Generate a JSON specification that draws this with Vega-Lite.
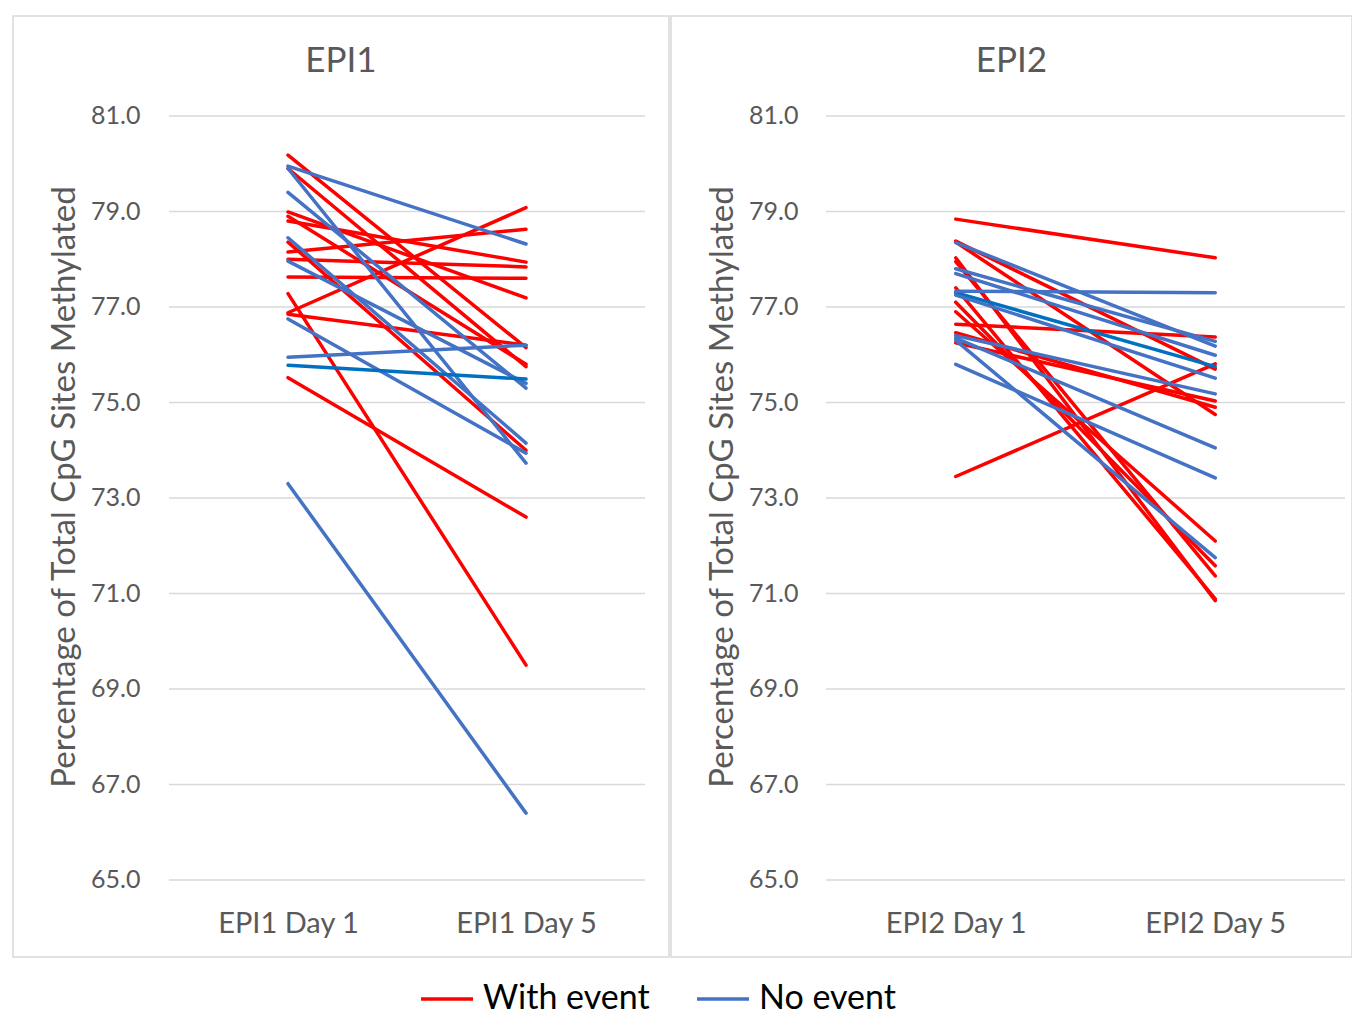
{
  "$schema": "https://vega.github.io/schema/vega-lite/v6.json",
  "padding": {"left": 12, "top": 15, "right": 0, "bottom": 0},
  "background": "white",
  "spacing": 0,
  "datasets": {
    "grid": [{"value": 65}, {"value": 67}, {"value": 69}, {"value": 71}, {"value": 73}, {"value": 75}, {"value": 77}, {"value": 79}, {"value": 81}],
    "pts": [
      {"panel": "EPI1", "id": "r1", "group": "With event", "day": 1, "value": 80.18}, {"panel": "EPI1", "id": "r1", "group": "With event", "day": 5, "value": 76.15},
      {"panel": "EPI1", "id": "r2", "group": "With event", "day": 1, "value": 79.9}, {"panel": "EPI1", "id": "r2", "group": "With event", "day": 5, "value": 75.75},
      {"panel": "EPI1", "id": "r3", "group": "With event", "day": 1, "value": 78.99}, {"panel": "EPI1", "id": "r3", "group": "With event", "day": 5, "value": 77.19},
      {"panel": "EPI1", "id": "r4", "group": "With event", "day": 1, "value": 78.8}, {"panel": "EPI1", "id": "r4", "group": "With event", "day": 5, "value": 77.94},
      {"panel": "EPI1", "id": "r5", "group": "With event", "day": 1, "value": 78.36}, {"panel": "EPI1", "id": "r5", "group": "With event", "day": 5, "value": 74.0},
      {"panel": "EPI1", "id": "r6", "group": "With event", "day": 1, "value": 78.15}, {"panel": "EPI1", "id": "r6", "group": "With event", "day": 5, "value": 78.63},
      {"panel": "EPI1", "id": "r7", "group": "With event", "day": 1, "value": 78.0}, {"panel": "EPI1", "id": "r7", "group": "With event", "day": 5, "value": 77.84},
      {"panel": "EPI1", "id": "r8", "group": "With event", "day": 1, "value": 77.63}, {"panel": "EPI1", "id": "r8", "group": "With event", "day": 5, "value": 77.6},
      {"panel": "EPI1", "id": "r9", "group": "With event", "day": 1, "value": 77.28}, {"panel": "EPI1", "id": "r9", "group": "With event", "day": 5, "value": 69.5},
      {"panel": "EPI1", "id": "r10", "group": "With event", "day": 1, "value": 76.88}, {"panel": "EPI1", "id": "r10", "group": "With event", "day": 5, "value": 79.08},
      {"panel": "EPI1", "id": "r11", "group": "With event", "day": 1, "value": 76.85}, {"panel": "EPI1", "id": "r11", "group": "With event", "day": 5, "value": 76.2},
      {"panel": "EPI1", "id": "r12", "group": "With event", "day": 1, "value": 75.52}, {"panel": "EPI1", "id": "r12", "group": "With event", "day": 5, "value": 72.6},
      {"panel": "EPI1", "id": "r13", "group": "With event", "day": 1, "value": 78.9}, {"panel": "EPI1", "id": "r13", "group": "With event", "day": 5, "value": 75.8},
      {"panel": "EPI1", "id": "b1", "group": "No event", "day": 1, "value": 79.95}, {"panel": "EPI1", "id": "b1", "group": "No event", "day": 5, "value": 78.32},
      {"panel": "EPI1", "id": "b2", "group": "No event", "day": 1, "value": 79.9}, {"panel": "EPI1", "id": "b2", "group": "No event", "day": 5, "value": 73.73},
      {"panel": "EPI1", "id": "b3", "group": "No event", "day": 1, "value": 79.4}, {"panel": "EPI1", "id": "b3", "group": "No event", "day": 5, "value": 75.3},
      {"panel": "EPI1", "id": "b4", "group": "No event", "day": 1, "value": 78.45}, {"panel": "EPI1", "id": "b4", "group": "No event", "day": 5, "value": 74.15},
      {"panel": "EPI1", "id": "b5", "group": "No event", "day": 1, "value": 77.96}, {"panel": "EPI1", "id": "b5", "group": "No event", "day": 5, "value": 75.4},
      {"panel": "EPI1", "id": "b6", "group": "No event", "day": 1, "value": 76.75}, {"panel": "EPI1", "id": "b6", "group": "No event", "day": 5, "value": 73.94},
      {"panel": "EPI1", "id": "b7", "group": "No event", "day": 1, "value": 75.95}, {"panel": "EPI1", "id": "b7", "group": "No event", "day": 5, "value": 76.2},
      {"panel": "EPI1", "id": "b8", "group": "No event (2)", "day": 1, "value": 75.78}, {"panel": "EPI1", "id": "b8", "group": "No event (2)", "day": 5, "value": 75.49},
      {"panel": "EPI1", "id": "b9", "group": "No event", "day": 1, "value": 73.3}, {"panel": "EPI1", "id": "b9", "group": "No event", "day": 5, "value": 66.4},

      {"panel": "EPI2", "id": "s1", "group": "With event", "day": 1, "value": 78.84}, {"panel": "EPI2", "id": "s1", "group": "With event", "day": 5, "value": 78.03},
      {"panel": "EPI2", "id": "s2", "group": "With event", "day": 1, "value": 78.38}, {"panel": "EPI2", "id": "s2", "group": "With event", "day": 5, "value": 75.7},
      {"panel": "EPI2", "id": "s3", "group": "With event", "day": 1, "value": 78.36}, {"panel": "EPI2", "id": "s3", "group": "With event", "day": 5, "value": 74.75},
      {"panel": "EPI2", "id": "s4", "group": "With event", "day": 1, "value": 78.03}, {"panel": "EPI2", "id": "s4", "group": "With event", "day": 5, "value": 70.85},
      {"panel": "EPI2", "id": "s5", "group": "With event", "day": 1, "value": 77.95}, {"panel": "EPI2", "id": "s5", "group": "With event", "day": 5, "value": 71.37},
      {"panel": "EPI2", "id": "s6", "group": "With event", "day": 1, "value": 77.4}, {"panel": "EPI2", "id": "s6", "group": "With event", "day": 5, "value": 70.89},
      {"panel": "EPI2", "id": "s7", "group": "With event", "day": 1, "value": 77.1}, {"panel": "EPI2", "id": "s7", "group": "With event", "day": 5, "value": 71.58},
      {"panel": "EPI2", "id": "s8", "group": "With event", "day": 1, "value": 76.9}, {"panel": "EPI2", "id": "s8", "group": "With event", "day": 5, "value": 72.1},
      {"panel": "EPI2", "id": "s9", "group": "With event", "day": 1, "value": 76.64}, {"panel": "EPI2", "id": "s9", "group": "With event", "day": 5, "value": 76.37},
      {"panel": "EPI2", "id": "s10", "group": "With event", "day": 1, "value": 76.46}, {"panel": "EPI2", "id": "s10", "group": "With event", "day": 5, "value": 74.9},
      {"panel": "EPI2", "id": "s11", "group": "With event", "day": 1, "value": 76.25}, {"panel": "EPI2", "id": "s11", "group": "With event", "day": 5, "value": 75.03},
      {"panel": "EPI2", "id": "s12", "group": "With event", "day": 1, "value": 73.45}, {"panel": "EPI2", "id": "s12", "group": "With event", "day": 5, "value": 75.81},
      {"panel": "EPI2", "id": "t1", "group": "No event", "day": 1, "value": 78.35}, {"panel": "EPI2", "id": "t1", "group": "No event", "day": 5, "value": 76.18},
      {"panel": "EPI2", "id": "t2", "group": "No event", "day": 1, "value": 77.8}, {"panel": "EPI2", "id": "t2", "group": "No event", "day": 5, "value": 76.28},
      {"panel": "EPI2", "id": "t3", "group": "No event", "day": 1, "value": 77.7}, {"panel": "EPI2", "id": "t3", "group": "No event", "day": 5, "value": 75.99},
      {"panel": "EPI2", "id": "t4", "group": "No event (2)", "day": 1, "value": 77.3}, {"panel": "EPI2", "id": "t4", "group": "No event (2)", "day": 5, "value": 75.75},
      {"panel": "EPI2", "id": "t5", "group": "No event", "day": 1, "value": 77.33}, {"panel": "EPI2", "id": "t5", "group": "No event", "day": 5, "value": 77.3},
      {"panel": "EPI2", "id": "t6", "group": "No event", "day": 1, "value": 77.25}, {"panel": "EPI2", "id": "t6", "group": "No event", "day": 5, "value": 75.51},
      {"panel": "EPI2", "id": "t7", "group": "No event", "day": 1, "value": 76.4}, {"panel": "EPI2", "id": "t7", "group": "No event", "day": 5, "value": 75.18},
      {"panel": "EPI2", "id": "t8", "group": "No event", "day": 1, "value": 76.35}, {"panel": "EPI2", "id": "t8", "group": "No event", "day": 5, "value": 74.05},
      {"panel": "EPI2", "id": "t9", "group": "No event", "day": 1, "value": 76.3}, {"panel": "EPI2", "id": "t9", "group": "No event", "day": 5, "value": 71.75},
      {"panel": "EPI2", "id": "t10", "group": "No event", "day": 1, "value": 75.8}, {"panel": "EPI2", "id": "t10", "group": "No event", "day": 5, "value": 73.42}
    ]
  },
  "hconcat": [
    {
      "width": 656,
      "height": 941,
      "title": {"text": "EPI1"},
      "encoding": {
        "y": {"field": "value", "type": "quantitative", "scale": {"domain": [63.3874, 83.0942], "nice": false, "zero": false},
              "axis": {"values": [65, 67, 69, 71, 73, 75, 77, 79, 81], "format": ".1f", "title": "Percentage of Total CpG Sites Methylated"}}
      },
      "layer": [
        {
          "data": {"name": "grid"},
          "mark": {"type": "rule", "color": "#d9d9d9", "strokeWidth": 1.5},
          "encoding": {
            "x": {"datum": -1, "type": "quantitative", "scale": {"domain": [-3.622, 7.403], "nice": false, "zero": false}, "axis": {"values": [1, 5], "labelExpr": "datum.value == 1 ? 'EPI1 Day 1' : 'EPI1 Day 5'", "title": null}},
            "x2": {"datum": 7}
          }
        },
        {
          "data": {"name": "pts"},
          "transform": [{"filter": "datum.panel === 'EPI1'"}],
          "mark": {"type": "line", "strokeWidth": 3.5, "strokeCap": "round"},
          "encoding": {
            "x": {"field": "day", "type": "quantitative", "scale": {"domain": [-3.622, 7.403], "nice": false, "zero": false}, "axis": {"values": [1, 5], "labelExpr": "datum.value == 1 ? 'EPI1 Day 1' : 'EPI1 Day 5'", "title": null}},
            "detail": {"field": "id"},
            "color": {"field": "group", "type": "nominal",
                      "scale": {"domain": ["With event", "No event", "No event (2)"], "range": ["#FF0000", "#4472C4", "#0070C0"]},
                      "legend": {"values": ["With event", "No event"], "title": null}}
          }
        }
      ]
    },
    {
      "width": 681,
      "height": 941,
      "title": {"text": "EPI2"},
      "encoding": {
        "y": {"field": "value", "type": "quantitative", "scale": {"domain": [63.3874, 83.0942], "nice": false, "zero": false},
              "axis": {"values": [65, 67, 69, 71, 73, 75, 77, 79, 81], "format": ".1f", "title": "Percentage of Total CpG Sites Methylated"}}
      },
      "layer": [
        {
          "data": {"name": "grid"},
          "mark": {"type": "rule", "color": "#d9d9d9", "strokeWidth": 1.5},
          "encoding": {
            "x": {"datum": -1, "type": "quantitative", "scale": {"domain": [-3.389, 7.108], "nice": false, "zero": false}, "axis": {"values": [1, 5], "labelExpr": "datum.value == 1 ? 'EPI2 Day 1' : 'EPI2 Day 5'", "title": null}},
            "x2": {"datum": 7}
          }
        },
        {
          "data": {"name": "pts"},
          "transform": [{"filter": "datum.panel === 'EPI2'"}],
          "mark": {"type": "line", "strokeWidth": 3.5, "strokeCap": "round"},
          "encoding": {
            "x": {"field": "day", "type": "quantitative", "scale": {"domain": [-3.389, 7.108], "nice": false, "zero": false}, "axis": {"values": [1, 5], "labelExpr": "datum.value == 1 ? 'EPI2 Day 1' : 'EPI2 Day 5'", "title": null}},
            "detail": {"field": "id"},
            "color": {"field": "group", "type": "nominal",
                      "scale": {"domain": ["With event", "No event", "No event (2)"], "range": ["#FF0000", "#4472C4", "#0070C0"]},
                      "legend": {"values": ["With event", "No event"], "title": null}}
          }
        }
      ]
    }
  ],
  "resolve": {"scale": {"color": "shared"}},
  "config": {
    "font": "Lato",
    "view": {"stroke": "#d9d9d9", "strokeWidth": 1.5},
    "axis": {"grid": false, "domain": false, "ticks": false, "labelColor": "#595959", "titleColor": "#595959", "labelFont": "Lato", "titleFont": "Lato", "titleFontWeight": "normal"},
    "axisY": {"offset": -155, "labelFontSize": 25, "labelPadding": 28, "titleFontSize": 33, "titlePadding": 9},
    "axisX": {"offset": -60, "labelFontSize": 29, "labelPadding": 12, "labelFlush": false},
    "title": {"fontSize": 35, "color": "#595959", "fontWeight": "normal", "font": "Lato", "offset": -63},
    "legend": {"orient": "none", "legendX": 406, "legendY": 955, "direction": "horizontal", "symbolType": "stroke", "symbolStrokeWidth": 3.5, "symbolSize": 2704, "labelFontSize": 34, "labelLimit": 400, "labelColor": "#000000", "labelFont": "Lato", "columnPadding": 40, "labelOffset": 8}
  }
}
